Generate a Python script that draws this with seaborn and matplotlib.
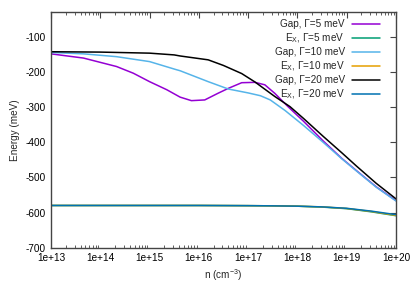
import matplotlib
matplotlib.use("Agg")
import matplotlib.pyplot as plt
import matplotlib.ticker as mticker
import numpy as np
import pandas as pd
import seaborn as sns

# log10 of carrier density, and energies (meV)
GAP5_LOGN = [13.0, 13.66, 14.33, 14.67, 15.0, 15.35, 15.62, 15.85, 16.12, 16.39, 16.6,
             16.87, 17.14, 17.34, 17.54, 17.81, 18.12, 18.52, 18.9, 19.2, 19.6, 20.0]
GAP5_E = [-149, -161, -185, -204, -228, -251, -272, -282, -280, -261, -247,
          -231, -230, -237, -261, -299, -340, -396, -446, -481, -527, -566]

GAP10_LOGN = [13.0, 13.66, 14.33, 15.0, 15.52, 15.62, 16.19, 16.6, 17.0, 17.25, 17.45,
              17.75, 18.12, 18.52, 18.9, 19.2, 19.6, 20.0]
GAP10_E = [-145, -149, -157, -171, -193, -197, -228, -249, -260, -268, -280,
           -310, -352, -400, -447, -482, -528, -567]

GAP20_LOGN = [13.0, 13.5, 14.0, 14.33, 15.0, 15.5, 15.62, 16.19, 16.5, 16.87, 17.14,
              17.54, 17.85, 18.12, 18.52, 18.9, 19.2, 19.6, 20.0]
GAP20_E = [-143, -143.5, -144, -145, -147, -152, -155, -166, -182, -205, -229,
           -270, -299, -332, -383, -430, -468, -517, -561]

EX_LOGN = [13.0, 14.0, 15.0, 16.0, 17.0, 17.5, 18.0, 18.5, 19.0, 19.5, 20.0]
EX5_E = [-580, -580, -580, -580, -580.5, -581, -582, -584.5, -589, -598, -609]
EX10_E = [-580, -580, -580, -580, -580.5, -581, -582, -584, -588.5, -597, -608]
EX20_E = [-580, -580, -580, -580, -580.5, -581, -582, -584, -588, -596, -606]

SERIES = [
    ("Gap, Γ=5 meV", GAP5_LOGN, GAP5_E, "#9400d3"),
    ("E$_\\mathregular{X}$, Γ=5 meV", EX_LOGN, EX5_E, "#009e73"),
    ("Gap, Γ=10 meV", GAP10_LOGN, GAP10_E, "#56b4e9"),
    ("E$_\\mathregular{X}$, Γ=10 meV", EX_LOGN, EX10_E, "#e69f00"),
    ("Gap, Γ=20 meV", GAP20_LOGN, GAP20_E, "#000000"),
    ("E$_\\mathregular{X}$, Γ=20 meV", EX_LOGN, EX20_E, "#0072b2"),
]

XTICK_EXP = [13, 14, 15, 16, 17, 18, 19, 20]
YTICKS = [-100, -200, -300, -400, -500, -600, -700]


def main() -> None:
    sns.set_theme(style="white")
    plt.rcParams["font.family"] = ["Liberation Sans", "DejaVu Sans"]
    plt.rcParams["font.size"] = 7.2

    fig = plt.figure(figsize=(4.15, 2.91), dpi=100)
    ax = fig.add_axes([0.1229, 0.1488, 0.954 - 0.1229, 0.9588 - 0.1488])

    for label, logn, energy, color in SERIES:
        df = pd.DataFrame({"n": 10.0 ** np.array(logn), "E": energy})
        sns.lineplot(data=df, x="n", y="E", ax=ax, color=color, lw=1.1,
                     label=label, estimator=None, sort=False)

    ax.set_xscale("log")
    ax.set_xlim(1e13, 1e20)
    ax.set_ylim(-700, -30)
    ax.set_xticks([10.0 ** e for e in XTICK_EXP])
    ax.set_xticklabels([f"1e+{e}" for e in XTICK_EXP])
    ax.xaxis.set_minor_locator(mticker.LogLocator(base=10, subs=np.arange(2, 10)))
    ax.xaxis.set_minor_formatter(mticker.NullFormatter())
    ax.set_yticks(YTICKS)
    ax.set_yticklabels([str(v) for v in YTICKS])

    ax.tick_params(axis="both", which="major", direction="in", length=4.5,
                   width=0.8, color="#444444", top=True, right=True,
                   labelsize=7.2, pad=4, labelcolor="#000000")
    ax.tick_params(axis="x", which="minor", direction="in", length=2.5,
                   width=0.6, color="#444444", top=True, bottom=True)
    for sp in ax.spines.values():
        sp.set_color("#444444")
        sp.set_linewidth(1.0)

    ax.set_xlabel("n (cm$^\\mathregular{-3}$)", fontsize=7.2, labelpad=3)
    ax.set_ylabel("Energy (meV)", fontsize=7.2, labelpad=4)

    leg = ax.legend(loc="upper right", frameon=False, markerfirst=False,
                    fontsize=7.2, handlelength=2.8, handletextpad=0.7,
                    labelspacing=0.22, borderaxespad=0.35,
                    bbox_to_anchor=(0.975, 1.0))
    for t in leg.get_texts():
        t.set_ha("right")

    fig.savefig("out.png", dpi=100)
    plt.close(fig)


if __name__ == "__main__":
    main()
